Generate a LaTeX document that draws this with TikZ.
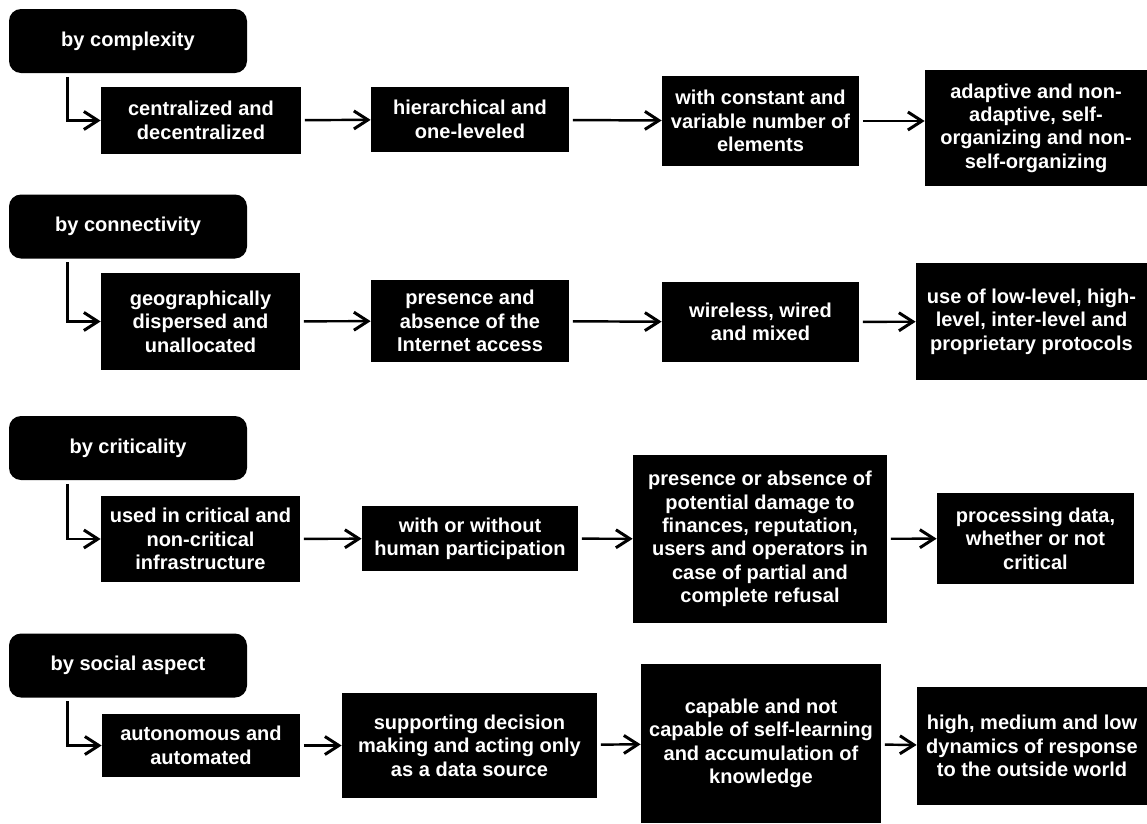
\documentclass[tikz,border=0pt]{standalone}
\usepackage{fontspec}
\setmainfont{Liberation Sans}
\usetikzlibrary{arrows.meta}
\begin{document}
\begin{tikzpicture}
        [nodeHead/.style={rectangle, rounded corners=0.24cm, fill=black, text=white, font=\fontsize{11.4}{13.3}\selectfont\bfseries, minimum width=4.76cm, minimum height=1.28cm, inner sep=0},
        nodeItem/.style={rectangle, fill=black, text=white, font=\fontsize{11.4}{13.3}\selectfont\bfseries, align=center, inner sep=0},
        link/.style={line width=1.4pt, shorten <=2pt, -{Straight Barb[length=2.8mm, width=3.6mm, line width=1.7pt]}}]
        \useasboundingbox (0,0) rectangle (22.94,-16.48);

        \node[nodeHead] (H1) at (2.56,-0.82) {by complexity};
        \node[nodeItem, minimum width=4.00cm, minimum height=1.34cm] (A1) at (4.02,-2.41) {centralized and\\decentralized};
        \node[nodeItem, minimum width=3.96cm, minimum height=1.30cm] (A2) at (9.40,-2.39) {hierarchical and\\one-leveled};
        \node[nodeItem, minimum width=3.94cm, minimum height=1.80cm] (A3) at (15.21,-2.42) {with constant and\\variable number of\\elements};
        \node[nodeItem, minimum width=4.44cm, minimum height=2.32cm] (A4) at (20.72,-2.56) {adaptive and non-\\adaptive, self-\\organizing and non-\\self-organizing};

        \node[nodeHead] (H2) at (2.56,-4.53) {by connectivity};
        \node[nodeItem, minimum width=3.98cm, minimum height=1.94cm] (B1) at (4.01,-6.43) {geographically\\dispersed and\\unallocated};
        \node[nodeItem, minimum width=3.96cm, minimum height=1.64cm] (B2) at (9.40,-6.42) {presence and\\absence of the\\Internet access};
        \node[nodeItem, minimum width=3.94cm, minimum height=1.60cm] (B3) at (15.21,-6.44) {wireless, wired\\and mixed};
        \node[nodeItem, minimum width=4.62cm, minimum height=2.34cm] (B4) at (20.63,-6.43) {use of low-level, high-\\level, inter-level and\\proprietary protocols};

        \node[nodeHead] (H3) at (2.56,-8.96) {by criticality};
        \node[nodeItem, minimum width=3.98cm, minimum height=1.72cm] (C1) at (4.01,-10.78) {used in critical and\\non-critical\\infrastructure};
        \node[nodeItem, minimum width=4.32cm, minimum height=1.30cm] (C2) at (9.40,-10.77) {with or without\\human participation};
        \node[nodeItem, minimum width=5.08cm, minimum height=3.36cm] (C3) at (15.20,-10.78) {presence or absence of\\potential damage to\\finances, reputation,\\users and operators in\\case of partial and\\complete refusal};
        \node[nodeItem, minimum width=3.94cm, minimum height=1.82cm] (C4) at (20.71,-10.77) {processing data,\\whether or not\\critical};

        \node[nodeHead] (H4) at (2.56,-13.31) {by social aspect};
        \node[nodeItem, minimum width=3.96cm, minimum height=1.26cm] (D1) at (4.02,-14.91) {autonomous and\\automated};
        \node[nodeItem, minimum width=5.10cm, minimum height=2.10cm] (D2) at (9.39,-14.91) {supporting decision\\making and acting only\\as a data source};
        \node[nodeItem, minimum width=4.80cm, minimum height=3.18cm] (D3) at (15.22,-14.87) {capable and not\\capable of self-learning\\and accumulation of\\knowledge};
        \node[nodeItem, minimum width=4.60cm, minimum height=2.36cm] (D4) at (20.64,-14.92) {high, medium and low\\dynamics of response\\to the outside world};

        \draw[link] ([xshift=1.18cm]H1.south west) |- (A1.west);
        \draw[link] (A1) -- (A2);
        \draw[link] (A2) -- (A3);
        \draw[link] (A3.east) -- (A3.east -| A4.west);

        \draw[link] ([xshift=1.18cm]H2.south west) |- (B1.west);
        \draw[link] (B1) -- (B2);
        \draw[link] (B2) -- (B3);
        \draw[link] (B3) -- (B4);

        \draw[link] ([xshift=1.18cm]H3.south west) |- (C1.west);
        \draw[link] (C1) -- (C2);
        \draw[link] (C2) -- (C3);
        \draw[link] (C3) -- (C4);

        \draw[link] ([xshift=1.18cm]H4.south west) |- (D1.west);
        \draw[link] (D1) -- (D2);
        \draw[link] (D2) -- (D3);
        \draw[link] (D3) -- (D4);
    \end{tikzpicture}
\end{document}
